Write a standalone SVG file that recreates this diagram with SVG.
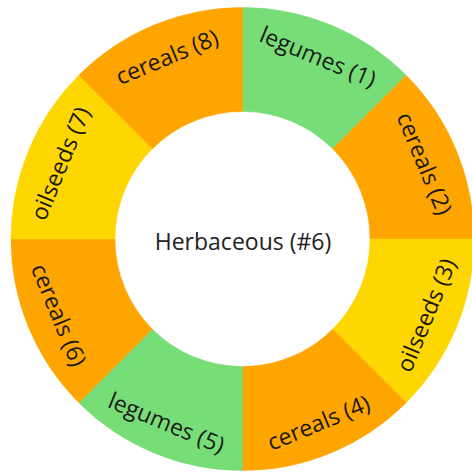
<svg xmlns="http://www.w3.org/2000/svg" width="472" height="472" viewBox="0 0 472 472">
<style>
.orange{fill:#FFA500;stroke:#FFA500;stroke-width:0.5}
.green{fill:#77DD77;stroke:#77DD77;stroke-width:0.5}
.yellow{fill:#FFD700;stroke:#FFD700;stroke-width:0.5}
.lbl{font-family:"Open Sans","Noto Sans",sans-serif;font-size:23px;fill:#1a1a1a;text-anchor:middle;dominant-baseline:central}
.ctr{font-family:"Open Sans","Noto Sans",sans-serif;font-size:23px;fill:#222;text-anchor:middle}
</style>
<rect width="472" height="472" fill="#fff"/>
<g id="seg1"><path class="green" d="M242.5,7.5 A231.5,231.5 0 0 1 406.2,75.3 L332.66,148.84 A127.5,127.5 0 0 0 242.5,111.5 Z"/><text class="lbl" transform="translate(318.27,56.07) rotate(22.5)">legumes (1)</text></g>
<g id="seg2"><path class="orange" d="M406.2,75.3 A231.5,231.5 0 0 1 474,239 L370,239 A127.5,127.5 0 0 0 332.66,148.84 Z"/><text class="lbl" transform="translate(425.43,163.23) rotate(67.5)">cereals (2)</text></g>
<g id="seg3"><path class="yellow" d="M474,239 A231.5,231.5 0 0 1 406.2,402.7 L332.66,329.16 A127.5,127.5 0 0 0 370,239 Z"/><text class="lbl" transform="translate(425.43,314.77) rotate(-67.5)">oilseeds (3)</text></g>
<g id="seg4"><path class="orange" d="M406.2,402.7 A231.5,231.5 0 0 1 242.5,470.5 L242.5,366.5 A127.5,127.5 0 0 0 332.66,329.16 Z"/><text class="lbl" transform="translate(318.27,421.93) rotate(-22.5)">cereals (4)</text></g>
<g id="seg5"><path class="green" d="M242.5,470.5 A231.5,231.5 0 0 1 78.8,402.7 L152.34,329.16 A127.5,127.5 0 0 0 242.5,366.5 Z"/><text class="lbl" transform="translate(166.73,421.93) rotate(22.5)">legumes (5)</text></g>
<g id="seg6"><path class="orange" d="M78.8,402.7 A231.5,231.5 0 0 1 11,239 L115,239 A127.5,127.5 0 0 0 152.34,329.16 Z"/><text class="lbl" transform="translate(59.57,314.77) rotate(67.5)">cereals (6)</text></g>
<g id="seg7"><path class="yellow" d="M11,239 A231.5,231.5 0 0 1 78.8,75.3 L152.34,148.84 A127.5,127.5 0 0 0 115,239 Z"/><text class="lbl" transform="translate(59.57,163.23) rotate(-67.5)">oilseeds (7)</text></g>
<g id="seg8"><path class="orange" d="M78.8,75.3 A231.5,231.5 0 0 1 242.5,7.5 L242.5,111.5 A127.5,127.5 0 0 0 152.34,148.84 Z"/><text class="lbl" transform="translate(166.73,56.07) rotate(-22.5)">cereals (8)</text></g>
<g id="center"><text class="ctr" x="243" y="250">Herbaceous (#6)</text></g>
<g id="connectors"></g>
</svg>
